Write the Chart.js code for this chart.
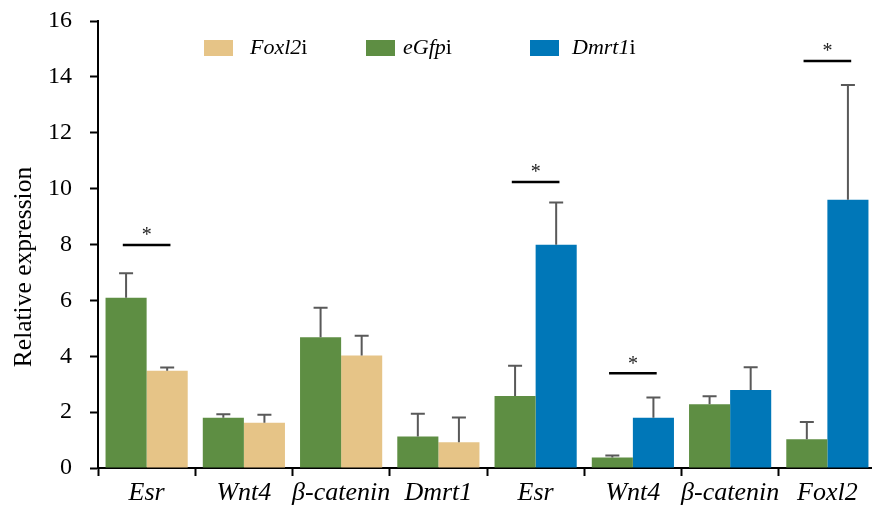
<!DOCTYPE html>
<html>
<head>
<meta charset="utf-8">
<script src="https://cdn.jsdelivr.net/npm/chart.js@4"></script>
<style>
  html, body { margin: 0; padding: 0; background: #ffffff; overflow: hidden; }
  #wrap { width: 872px; height: 507px; position: relative; overflow: hidden; }
</style>
</head>
<body>
<div id="wrap"><canvas id="c" width="876" height="507"></canvas></div>
<script>
// ---- data ----
const categories = ['Esr', 'Wnt4', 'β-catenin', 'Dmrt1', 'Esr', 'Wnt4', 'β-catenin', 'Foxl2'];
const eGfpiMeans   = [6.09, 1.80, 4.68, 1.13, 2.58, 0.38, 2.28, 1.03];
const eGfpiErrors  = [0.88, 0.12, 1.06, 0.81, 1.08, 0.07, 0.29, 0.62];
const foxl2iMeans  = [3.48, 1.62, 4.03, 0.92, null, null, null, null];
const foxl2iErrors = [0.12, 0.29, 0.70, 0.89, null, null, null, null];
const dmrt1iMeans  = [null, null, null, null, 7.99, 1.80, 2.79, 9.60];
const dmrt1iErrors = [null, null, null, null, 1.51, 0.72, 0.82, 4.11];
const sigCategoryIndex = [0, 4, 5, 7];
const sigLineLevel     = [7.98, 10.24, 3.39, 14.57];
const yTicks = [0, 2, 4, 6, 8, 10, 12, 14, 16];

const GREEN = '#5e8e43', TAN = '#e6c487', BLUE = '#0077b8';
const SERIF = '"Liberation Serif", "Times New Roman", serif';

const errorArrays = [eGfpiErrors, foxl2iErrors, dmrt1iErrors];

const errorBarPlugin = {
  id: 'errorBars',
  afterDatasetsDraw(chart) {
    const ctx = chart.ctx, y = chart.scales.y;
    ctx.save();
    ctx.strokeStyle = '#595959';
    ctx.lineWidth = 2;
    chart.data.datasets.forEach((ds, di) => {
      const meta = chart.getDatasetMeta(di);
      const errs = errorArrays[di];
      meta.data.forEach((bar, i) => {
        const v = ds.data[i];
        if (v === null || errs[i] === null) return;
        const top = y.getPixelForValue(v + errs[i]);
        const base = y.getPixelForValue(v);
        ctx.beginPath();
        ctx.moveTo(bar.x, base);
        ctx.lineTo(bar.x, top);
        ctx.moveTo(bar.x - 7, top);
        ctx.lineTo(bar.x + 7, top);
        ctx.stroke();
      });
    });
    ctx.restore();
  }
};

const sigPlugin = {
  id: 'sig',
  afterDatasetsDraw(chart) {
    const ctx = chart.ctx, x = chart.scales.x, y = chart.scales.y;
    const catW = x.getPixelForValue(1) - x.getPixelForValue(0);
    ctx.save();
    ctx.strokeStyle = '#000';
    ctx.fillStyle = '#222';
    ctx.lineWidth = 2.5;
    ctx.font = '20px ' + SERIF;
    ctx.textAlign = 'center';
    ctx.textBaseline = 'middle';
    sigCategoryIndex.forEach((ci, k) => {
      const cx = x.getPixelForValue(ci);
      const ly = y.getPixelForValue(sigLineLevel[k]);
      ctx.beginPath();
      ctx.moveTo(cx - catW * 0.245, ly);
      ctx.lineTo(cx + catW * 0.245, ly);
      ctx.stroke();
      ctx.fillText('*', cx, ly - 9);
    });
    ctx.restore();
  }
};

const legendItems = [
  { italic: 'Foxl2', plain: 'i', color: TAN,   sx: 204, tx: 250 },
  { italic: 'eGfp',  plain: 'i', color: GREEN, sx: 366, tx: 403 },
  { italic: 'Dmrt1', plain: 'i', color: BLUE,  sx: 530, tx: 572 }
];

const overlayPlugin = {
  id: 'overlay',
  afterDraw(chart) {
    const ctx = chart.ctx;
    ctx.save();
    ctx.textBaseline = 'middle';
    ctx.textAlign = 'left';
    legendItems.forEach(it => {
      ctx.fillStyle = it.color;
      ctx.fillRect(it.sx, 40, 29, 16);
      ctx.fillStyle = '#000';
      ctx.font = 'italic 22px ' + SERIF;
      ctx.fillText(it.italic, it.tx, 48);
      const w = ctx.measureText(it.italic).width;
      ctx.font = '22px ' + SERIF;
      ctx.fillText(it.plain, it.tx + w, 48);
    });
    ctx.translate(24, 267);
    ctx.rotate(-Math.PI / 2);
    ctx.textAlign = 'center';
    ctx.font = '25.5px ' + SERIF;
    ctx.fillText('Relative expression', 0, 0);
    ctx.restore();
  }
};

new Chart(document.getElementById('c'), {
  type: 'bar',
  data: {
    labels: categories,
    datasets: [
      { label: 'eGfpi',  data: eGfpiMeans,  backgroundColor: GREEN },
      { label: 'Foxl2i', data: foxl2iMeans, backgroundColor: TAN },
      { label: 'Dmrt1i', data: dmrt1iMeans, backgroundColor: BLUE }
    ]
  },
  options: {
    responsive: false,
    animation: false,
    skipNull: true,
    categoryPercentage: 0.845,
    barPercentage: 1.0,
    layout: { padding: { top: 21, right: 0, bottom: 0, left: 0 } },
    plugins: {
      legend: { display: false },
      tooltip: { enabled: false },
      title: { display: false }
    },
    scales: {
      x: {
        offset: true,
        grid: { offset: true, drawOnChartArea: false, drawTicks: true, tickLength: 8, tickWidth: 2, tickColor: '#000' },
        border: { display: true, color: '#000', width: 2 },
        ticks: { color: '#000', padding: 2, maxRotation: 0, autoSkip: false, font: { family: SERIF, size: 26, style: 'italic' } },
        afterFit(scale) { scale.height = 39; scale.paddingLeft = 0; scale.paddingRight = 0; }
      },
      y: {
        min: 0, max: 16,
        afterBuildTicks(scale) { scale.ticks = yTicks.map(v => ({ value: v })); },
        grid: { drawOnChartArea: false, drawTicks: true, tickLength: 8, tickWidth: 2, tickColor: '#000' },
        border: { display: true, color: '#000', width: 2 },
        ticks: { color: '#000', padding: 18, font: { family: SERIF, size: 24 } },
        afterFit(scale) { scale.width = 98; scale.paddingTop = 0; scale.paddingBottom = 0; }
      }
    }
  },
  plugins: [errorBarPlugin, sigPlugin, overlayPlugin]
});
</script>
</body>
</html>
